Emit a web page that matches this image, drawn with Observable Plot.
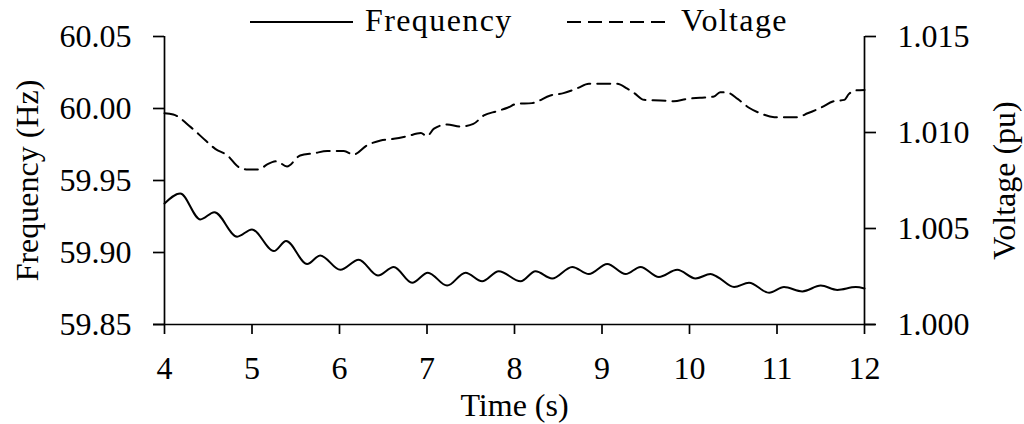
<!DOCTYPE html>
<html>
<head>
<meta charset="utf-8">
<script src="https://cdn.jsdelivr.net/npm/d3@7"></script>
<script src="https://cdn.jsdelivr.net/npm/@observablehq/plot@0.6"></script>
<style>
  body { margin: 0; background: #fff; }
  #wrap { position: relative; width: 1024px; height: 424px; font-family: "Liberation Serif", serif; }
  #legend { position: absolute; left: 0; top: 0; }
</style>
</head>
<body>
<div id="wrap"></div>
<script>
// Frequency series (Hz)
const freqTime = [4.0, 4.18, 4.41, 4.57, 4.83, 5.0, 5.25, 5.39, 5.63, 5.78,
  6.01, 6.22, 6.44, 6.62, 6.83, 7.01, 7.23, 7.44, 7.63, 7.82,
  8.07, 8.24, 8.43, 8.66, 8.85, 9.06, 9.27, 9.44, 9.65, 9.86,
  10.07, 10.24, 10.32, 10.51, 10.68, 10.91, 11.08, 11.29, 11.50, 11.69,
  11.90, 12.0];
const freqValue = [59.934, 59.941, 59.923, 59.928, 59.911, 59.916, 59.901, 59.908, 59.892, 59.898,
  59.888, 59.895, 59.884, 59.890, 59.879, 59.886, 59.877, 59.886, 59.880, 59.887,
  59.880, 59.887, 59.882, 59.890, 59.885, 59.892, 59.885, 59.890, 59.883, 59.888,
  59.882, 59.885, 59.883, 59.876, 59.879, 59.872, 59.876, 59.873, 59.877, 59.874,
  59.876, 59.875];

// Voltage series (pu)
const voltTime = [4.0, 4.1, 4.3, 4.47, 4.58, 4.72, 4.85, 4.95, 5.08, 5.17,
  5.28, 5.40, 5.55, 5.71, 5.86, 6.05, 6.16, 6.31, 6.47, 6.62,
  6.77, 6.93, 7.0, 7.08, 7.23, 7.38, 7.53, 7.65, 7.80, 7.92,
  8.03, 8.2, 8.41, 8.56, 8.72, 8.85, 8.98, 9.17, 9.29, 9.37,
  9.48, 9.67, 9.82, 9.97, 10.12, 10.28, 10.35, 10.45, 10.55, 10.68,
  10.81, 10.97, 11.23, 11.35, 11.5, 11.65, 11.77, 11.82, 11.9, 12.0];
const voltValue = [1.0110, 1.01094, 1.01028, 1.00958, 1.00915, 1.0088, 1.00819, 1.00807, 1.00807, 1.00833,
  1.0085, 1.00823, 1.0088, 1.00892, 1.00903, 1.00903, 1.00885, 1.00932, 1.00958, 1.00967,
  1.0098, 1.00997, 1.00981, 1.0102, 1.01042, 1.01031, 1.01045, 1.01089, 1.01111, 1.01129,
  1.0115, 1.01153, 1.01193, 1.01205, 1.01231, 1.01254, 1.01254, 1.01254, 1.01228, 1.01205,
  1.0117, 1.01167, 1.01163, 1.01175, 1.01181, 1.01187, 1.0121, 1.01205, 1.01175, 1.01129,
  1.0110, 1.0108, 1.0108, 1.0110, 1.01129, 1.01163, 1.0117, 1.012, 1.01219, 1.01222];

// Tick labels
const timeTicks = [4, 5, 6, 7, 8, 9, 10, 11, 12];
const freqTicks = [59.85, 59.90, 59.95, 60.00, 60.05];
const voltTicks = [1.000, 1.005, 1.010, 1.015];

const freqDomain = [59.85, 60.05];
const voltDomain = [1.000, 1.015];
const toF = v => freqDomain[0] + (v - voltDomain[0]) / (voltDomain[1] - voltDomain[0]) * (freqDomain[1] - freqDomain[0]);
const toV = f => voltDomain[0] + (f - freqDomain[0]) / (freqDomain[1] - freqDomain[0]) * (voltDomain[1] - voltDomain[0]);

const freqData = freqTime.map((t, i) => ({t, y: freqValue[i]}));
const voltData = voltTime.map((t, i) => ({t, y: toF(voltValue[i])}));

const SW = 1.7;

const chart = Plot.plot({
  width: 1024,
  height: 424,
  marginLeft: 164,
  marginRight: 160,
  marginTop: 36,
  marginBottom: 100,
  style: {fontFamily: "'Liberation Serif', serif", fontSize: "32px", color: "#000", background: "#fff"},
  x: {domain: [4, 12]},
  y: {domain: freqDomain},
  marks: [
    Plot.axisX({ticks: timeTicks, tickSize: 10, tickPadding: 22, strokeWidth: SW, tickFormat: d => String(d),
      label: "Time (s)", labelAnchor: "center", labelArrow: "none", labelOffset: 91}),
    Plot.axisY({anchor: "left", ticks: freqTicks, tickSize: 11, tickPadding: 22, strokeWidth: SW, tickFormat: d => d.toFixed(2),
      label: "Frequency (Hz)", labelAnchor: "center", labelArrow: "none", labelOffset: 149}),
    Plot.axisY(voltTicks.map(toF), {anchor: "right", tickSize: 11, tickPadding: 22, strokeWidth: SW,
      tickFormat: d => toV(d).toFixed(3),
      label: "Voltage (pu)", labelAnchor: "center", labelArrow: "none", labelOffset: 150}),
    Plot.ruleX([4, 12], {y1: freqDomain[0], y2: freqDomain[1], strokeWidth: SW}),
    Plot.ruleY([freqDomain[0]], {x1: 4, x2: 12, insetLeft: -11, insetRight: -11, strokeWidth: SW}),
    Plot.line(freqData, {x: "t", y: "y", curve: "monotone-x", stroke: "#000", strokeWidth: 2}),
    Plot.line(voltData, {x: "t", y: "y", curve: "monotone-x", stroke: "#000", strokeWidth: 2, strokeDasharray: "13,7"})
  ]
});

const wrap = document.getElementById("wrap");
wrap.appendChild(chart);

// Legend overlay
const ns = "http://www.w3.org/2000/svg";
const leg = document.createElementNS(ns, "svg");
leg.setAttribute("id", "legend");
leg.setAttribute("width", 1024);
leg.setAttribute("height", 42);
const legendItems = [
  {label: "Frequency", dash: null, x0: 250, x1: 353, tx: 365},
  {label: "Voltage", dash: "14,7", x0: 567, x1: 667, tx: 681}
];
for (const it of legendItems) {
  const ln = document.createElementNS(ns, "line");
  ln.setAttribute("x1", it.x0); ln.setAttribute("x2", it.x1);
  ln.setAttribute("y1", 22); ln.setAttribute("y2", 22);
  ln.setAttribute("stroke", "#000"); ln.setAttribute("stroke-width", 2);
  if (it.dash) ln.setAttribute("stroke-dasharray", it.dash);
  leg.appendChild(ln);
  const tx = document.createElementNS(ns, "text");
  tx.setAttribute("x", it.tx); tx.setAttribute("y", 31);
  tx.setAttribute("font-family", "'Liberation Serif', serif");
  tx.setAttribute("font-size", 32);
  tx.setAttribute("letter-spacing", "1.4");
  tx.textContent = it.label;
  leg.appendChild(tx);
}
wrap.appendChild(leg);
</script>
</body>
</html>
